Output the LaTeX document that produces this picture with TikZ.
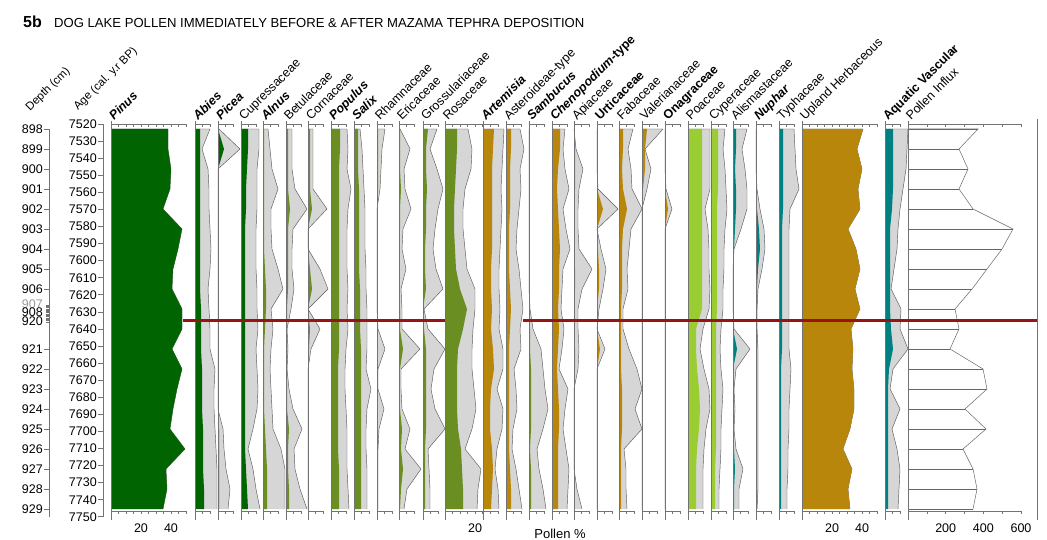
\documentclass[tikz,border=0pt]{standalone}
\usepackage{fontspec}
\setmainfont{Liberation Sans}
\usepackage{tikz}
\usetikzlibrary{positioning}

\definecolor{pinegreen}{RGB}{0,100,0}
\definecolor{shrubolive}{RGB}{107,142,35}
\definecolor{herbgold}{RGB}{184,134,11}
\definecolor{grassgreen}{RGB}{154,205,50}
\definecolor{aquateal}{RGB}{0,128,128}
\definecolor{tephrared}{RGB}{150,20,20}
\definecolor{exaggrey}{RGB}{214,214,214}
\definecolor{axisgrey}{RGB}{115,115,115}

% one pollen column: position, colour, axis length, values, exaggerated values
\newcommand{\taxon}[5]{%
  \begin{scope}[shift={(#1,0)}]
    \fill[exag] (0,129) \foreach \v [count=\i] in {#5} { -- (\v,109+20*\i) } -- (0,509) -- cycle;
    \draw[exagline] (0,129) \foreach \v [count=\i] in {#5} { -- (\v,109+20*\i) };
    \fill[#2] (0,129) \foreach \v [count=\i] in {#4} { -- (\v,109+20*\i) } -- (0,509) -- cycle;
    \draw[colline] (0,121) -- (0,520);
    \draw[colline] (0,124) -- (#3,124) (0,511) -- (#3,511);
    \pgfmathtruncatemacro\nticks{round(#3/7.5)}
    \foreach \t in {1,...,\nticks} \draw[colline] (7.5*\t,124) -- (7.5*\t,127) (7.5*\t,511) -- (7.5*\t,514);
  \end{scope}}

\begin{document}
\begin{tikzpicture}[
    x=1pt, y=-1pt,
    colline/.style={draw=axisgrey, line width=0.7pt},
    exag/.style={fill=exaggrey},
    exagline/.style={draw=black!65, line width=0.45pt, line join=round},
    taxlabel/.style={rotate=45, anchor=base west, inner sep=0pt, font=\fontsize{12.5}{12.5}\selectfont},
    axislabel/.style={rotate=45, anchor=base west, inner sep=0pt, font=\fontsize{11.5}{11.5}\selectfont},
    numlabel/.style={inner sep=0pt, font=\fontsize{12.5}{12.5}\selectfont},
    tephra/.style={draw=tephrared, line width=2.6pt},
    influxline/.style={draw=black!60, line width=0.5pt}
]
\useasboundingbox (0,0) rectangle (1047,540);

% Title
\node[anchor=base west, inner sep=0pt, font=\fontsize{16}{16}\selectfont\bfseries] (fignum) at (23,28) {5b};
\node[anchor=base west, inner sep=0pt, font=\fontsize{13.1}{13.1}\selectfont] (title) at (54,28) {DOG LAKE POLLEN IMMEDIATELY BEFORE \& AFTER MAZAMA TEPHRA DEPOSITION};

% Depth and age axes
\node[axislabel] (depthlab) at (30,112) {Depth (cm)};
\node[axislabel] (agelab) at (78,111) {Age (cal. y.r BP)};
\draw[colline] (49,129) -- (49,517);
\draw[colline] (103,124) -- (103,517);
\foreach \d in {898,...,906} {
  \node[numlabel, anchor=east] (d\d) at (43,{129+20*(\d-898)}) {\d};
  \draw[colline] (44,{129+20*(\d-898)}) -- (49,{129+20*(\d-898)});
}
\node[numlabel, anchor=east, text=black!40] (d907) at (43,304) {907};
\node[numlabel, anchor=east] (d908) at (43,312) {908};
\node[numlabel, anchor=east] (d920) at (43,321) {920};
\foreach \k in {0,...,13} \draw[colline] (46,{305+\k*1.3}) -- (49,{305+\k*1.3});
\foreach \d in {921,...,929} {
  \node[numlabel, anchor=east] (d\d) at (43,{349+20*(\d-921)}) {\d};
  \draw[colline] (44,{349+20*(\d-921)}) -- (49,{349+20*(\d-921)});
}
\foreach \a [count=\k from 0] in {7520,7530,...,7750} {
  \node[numlabel, anchor=east] (a\a) at (97,{124+17.08*\k}) {\a};
  \draw[colline] (98,{124+17.08*\k}) -- (103,{124+17.08*\k});
}

% Trees and shrubs
\taxon{111}{pinegreen}{75}{57,57,60,59,52,71,67,62,61,71,71,61,71,66,62,59,74,55,56,52}{57,57,60,59,52,71,67,62,61,71,71,61,71,66,62,59,74,55,56,52}
\taxon{195}{pinegreen}{15}{5,5,5,5,5,5,5,5,5,6,6,6,7,7,7,8,8,8,9,9}{15,7,13,14,14,15,16,15,13,14,15,15,20,19,19,20,21,22,22,22}
\taxon{218}{pinegreen}{15}{0,6,0,0,0,0,0,0,0,0,0,0,0,0,0,1,1,1,1,1}{1,22,0,0,0,0,0,0,0,0,0,0,0,0,0,5,6,8,12,10}
\taxon{241}{pinegreen}{15}{7,7,6,5,5,4,4,4,4,4,4,4,4,4,4,4,4,5,6,7}{18,18,16,16,16,15,15,15,16,16,17,15,16,17,16,12,7,12,15,19}
\taxon{263}{shrubolive}{15}{1,1,1,1,1,1,1,2,3,3,2,1,1,1,1,2,3,4,4,4}{5,7,9,15,8,8,9,15,20,8,10,8,7,8,9,10,18,22,22,22}
\taxon{286}{shrubolive}{15}{2,2,2,2,4,2,2,2,2,1,1,1,1,1,1,3,2,2,3,3}{6,6,6,9,21,7,6,6,8,5,1,2,1,3,7,16,8,9,14,21}
\taxon{308}{shrubolive}{15}{2,2,2,2,4,0,0,2,4,0,2,1,0,0,0,0,0,0,0,0}{5,5,5,5,19,0,0,12,20,0,12,3,0,0,0,0,0,0,0,0}
\taxon{331}{shrubolive}{15}{9,9,8,8,8,8,8,8,8,8,8,8,7,7,7,7,7,8,8,8}{16,17,16,20,17,16,16,16,17,16,17,15,14,14,15,16,16,16,17,18}
\taxon{354}{shrubolive}{15}{4,4,4,5,5,5,5,5,6,6,6,7,7,7,7,7,7,7,7,7}{6,8,9,10,11,11,11,12,12,13,13,13,12,17,13,12,12,13,13,13}
\taxon{377}{shrubolive}{15}{1,1,1,1,0,0,0,0,0,0,0,1,0,0,1,0,0,0,0,0}{8,5,4,3,0,0,0,0,0,0,1,8,1,1,7,2,1,1,1,1}
\taxon{399}{shrubolive}{15}{1,1,1,2,1,1,0,1,0,1,1,4,1,0,1,3,2,4,2,1}{1,11,5,6,12,4,3,7,2,3,3,21,2,2,3,11,6,22,8,5}
\taxon{423}{shrubolive}{15}{5,3,3,4,3,3,2,2,3,0,1,3,3,3,3,3,2,2,2,2}{14,7,14,20,15,12,10,13,20,1,5,22,11,8,12,22,5,6,7,7}
\taxon{445}{shrubolive}{37.5}{12,12,11,10,9,9,10,11,15,22,18,13,12,12,12,13,16,17,18,18}{23,27,26,20,18,18,20,22,30,30,28,27,27,29,31,27,20,36,33,32}

% Herbs
\taxon{483}{herbgold}{15}{11,10,9,9,9,9,9,8,8,9,8,10,11,8,7,7,9,10,9,8}{21,20,19,18,19,18,17,16,16,17,16,20,20,14,20,19,14,12,15,16}
\taxon{506}{herbgold}{15}{5,5,4,4,4,3,3,3,4,5,4,3,3,3,3,3,3,4,5,5}{14,18,14,15,13,11,10,13,15,17,14,15,8,10,11,7,6,10,13,16}
\taxon{529}{shrubolive}{15}{0,0,0,0,0,0,0,0,0,0,1,1,2,2,2,2,1,2,2,2}{0,0,0,0,0,0,0,0,0,1,4,12,14,16,19,14,8,10,14,17}
\taxon{552}{herbgold}{15}{8,8,6,5,6,7,8,7,7,6,7,6,5,6,7,7,6,6,6,6}{13,11,13,17,11,14,18,11,10,9,12,10,7,16,13,11,14,17,16,15}
\taxon{574}{herbgold}{15}{0,1,1,1,0,0,0,1,1,0,0,1,1,0,0,0,0,0,0,0}{0,2,9,5,4,4,5,18,8,4,4,5,4,0,0,0,0,0,3,8}
\taxon{597}{herbgold}{15}{0,0,0,0,6,0,1,2,2,0,0,3,0,0,0,0,0,0,0,0}{0,0,0,1,21,0,4,9,6,2,0,8,0,0,0,0,0,0,0,0}
\taxon{619}{herbgold}{15}{4,4,3,4,8,4,3,3,3,2,2,2,2,3,3,3,2,2,2,2}{14,9,12,13,23,12,10,8,9,4,4,10,18,23,16,23,5,7,7,8}
\taxon{642}{herbgold}{15}{5,3,3,1,0,0,0,0,0,0,0,0,0,0,0,0,0,0,0,0}{21,3,9,5,0,0,0,0,0,0,0,0,0,0,0,0,0,0,0,0}
\taxon{665}{herbgold}{15}{0,0,0,0,3,0,0,0,0,0,0,0,0,0,0,0,0,0,0,0}{0,0,0,1,7,0,0,0,0,0,0,0,0,0,0,0,0,0,0,0}
\taxon{688}{grassgreen}{15}{14,14,14,14,14,14,14,14,14,14,8,8,9,11,12,11,9,8,8,8}{22,22,22,22,17,20,21,21,22,21,15,12,16,21,22,18,16,15,15,15}
\taxon{711}{grassgreen}{15}{7,7,7,7,6,6,6,6,6,6,5,5,5,5,5,5,5,4,4,4}{14,12,14,15,16,14,13,13,12,12,10,9,10,12,11,10,10,9,8,8}

% Aquatics
\taxon{733}{aquateal}{15}{3,3,2,3,3,2,1,0,0,0,0,4,0,0,0,0,1,2,1,1}{14,9,12,14,14,8,1,0,0,0,1,17,3,1,2,1,3,10,6,6}
\taxon{756}{aquateal}{15}{0,0,0,0,1,3,4,2,1,1,1,1,1,1,1,1,1,1,1,1}{0,0,0,1,4,8,9,6,2,1,1,2,2,2,2,2,2,2,2,1}
\taxon{779}{aquateal}{15}{4,4,4,4,4,3,3,3,3,3,3,3,2,2,2,2,2,2,2,2}{15,16,17,20,11,10,10,10,10,10,10,10,12,11,10,10,9,9,8,8}

% Sums
\taxon{802}{herbgold}{75}{61,55,60,56,58,46,54,58,53,58,49,51,50,52,52,48,41,50,46,48}{61,55,60,56,58,46,54,58,53,58,49,51,50,52,52,48,41,50,46,48}
\taxon{885}{aquateal}{15}{8,8,8,8,7,5,5,5,5,5,6,8,4,3,3,3,3,3,3,3}{23,22,21,18,15,13,12,9,6,16,15,23,8,5,15,7,12,15,14,13}

% Pollen influx
\begin{scope}[shift={(908,0)}]
  \foreach \v [count=\i] in {70,51,60,51,65,105,94,79,64,47,51,42,75,79,57,78,55,65,69,65}
    \draw[influxline] (0,109+20*\i) -- (\v,109+20*\i);
  \draw[influxline] (0,129) \foreach \v [count=\i] in {70,51,60,51,65,105,94,79,64,47,51,42,75,79,57,78,55,65,69,65} { -- (\v,109+20*\i) };
  \draw[colline] (0,121) -- (0,520);
  \draw[colline] (0,124) -- (113.1,124) (0,511) -- (113.1,511);
  \foreach \t in {1,...,6} \draw[colline] (18.85*\t,124) -- (18.85*\t,127) (18.85*\t,511) -- (18.85*\t,514);
\end{scope}
\draw[colline] (1037,119) -- (1037,520);

% Tephra
\draw[tephra] (183,320.5) -- (445,320.5);
\draw[tephra] (523,320.5) -- (1037,320.5);

% Column labels
\node[taxlabel] (lpinus) at (114,121) {\textbf{\textit{Pinus}}};
\node[taxlabel] (labies) at (198,121) {\textbf{\textit{Abies}}};
\node[taxlabel] (lpicea) at (221,121) {\textbf{\textit{Picea}}};
\node[taxlabel] (lcupress) at (244,121) {Cupressaceae};
\node[taxlabel] (lalnus) at (266,121) {\textbf{\textit{Alnus}}};
\node[taxlabel] (lbetula) at (289,121) {Betulaceae};
\node[taxlabel] (lcornus) at (311,121) {Cornaceae};
\node[taxlabel] (lpopulus) at (334,121) {\textbf{\textit{Populus}}};
\node[taxlabel] (lsalix) at (357,121) {\textbf{\textit{Salix}}};
\node[taxlabel] (lrhamn) at (380,121) {Rhamnaceae};
\node[taxlabel] (lerica) at (402,121) {Ericaceae};
\node[taxlabel] (lgross) at (426,121) {Grossulariaceae};
\node[taxlabel] (lrosa) at (448,121) {Rosaceae};
\node[taxlabel] (lartem) at (486,121) {\textbf{\textit{Artemisia}}};
\node[taxlabel] (laster) at (509,121) {Asteroideae-type};
\node[taxlabel] (lsambu) at (532,121) {\textbf{\textit{Sambucus}}};
\node[taxlabel] (lcheno) at (555,121) {\textbf{\textit{Chenopodium}}\textbf{-type}};
\node[taxlabel] (lapia) at (577,121) {Apiaceae};
\node[taxlabel] (lurtica) at (600,121) {\textbf{Urticaceae}};
\node[taxlabel] (lfaba) at (622,121) {Fabaceae};
\node[taxlabel] (lvaler) at (645,121) {Valerianaceae};
\node[taxlabel] (lonagr) at (668,121) {\textbf{Onagraceae}};
\node[taxlabel] (lpoa) at (691,121) {Poaceae};
\node[taxlabel] (lcyper) at (714,121) {Cyperaceae};
\node[taxlabel] (lalism) at (736,121) {Alismastaceae};
\node[taxlabel] (lnuphar) at (759,121) {\textbf{\textit{Nuphar}}};
\node[taxlabel] (ltypha) at (782,121) {Typhaceae};
\node[taxlabel] (lupland) at (805,121) {Upland Herbaceous};
\node[taxlabel] (laquatic) at (888,121) {\textbf{Aquatic Vascular}};
\node[taxlabel] (linflux) at (911,121) {Pollen Influx};

% Scale labels
\node[numlabel] (pin20) at (141,528) {20};
\node[numlabel] (pin40) at (171,528) {40};
\node[numlabel] (ros20) at (475,528) {20};
\node[numlabel, font=\fontsize{13}{13}\selectfont] (pollenpct) at (560,534) {Pollen \%};
\node[numlabel] (upl20) at (832,528) {20};
\node[numlabel] (upl40) at (862,528) {40};
\node[numlabel] (inf200) at (945.7,528) {200};
\node[numlabel] (inf400) at (983.4,528) {400};
\node[numlabel] (inf600) at (1021,528) {600};

\end{tikzpicture}
\end{document}
